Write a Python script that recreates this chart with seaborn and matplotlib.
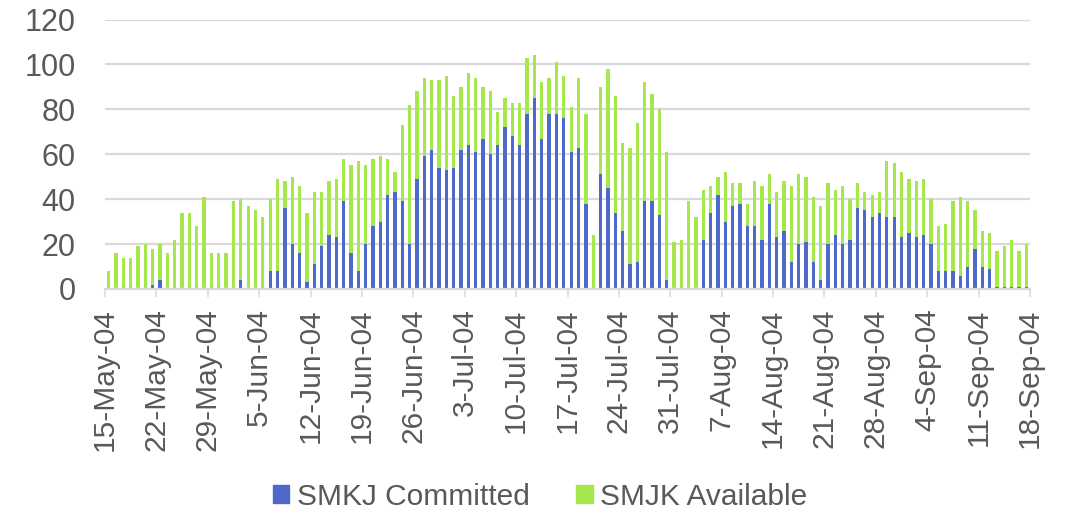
import numpy as np
import pandas as pd
import seaborn as sns
import matplotlib.pyplot as plt
from matplotlib.patches import Patch

### Daily values, 15-May-04 .. 17-Sep-04 (one bar per day)
total = [8, 16, 14, 14, 19, 20, 18, 20, 16, 22, 34, 34, 28, 41, 16, 16, 16, 39, 40, 37,
         35, 32, 40, 49, 48, 50, 46, 34, 43, 43, 48, 49, 58, 55, 57, 55, 58, 59, 58, 52,
         73, 82, 88, 94, 93, 93, 95, 86, 90, 96, 94, 90, 88, 79, 85, 83, 83, 103, 104, 92,
         94, 101, 95, 81, 94, 78, 24, 90, 98, 86, 65, 63, 74, 92, 87, 80, 61, 21, 22, 39,
         32, 44, 46, 50, 52, 47, 47, 38, 48, 46, 51, 43, 48, 46, 51, 50, 41, 37, 47, 44,
         46, 40, 47, 43, 42, 43, 57, 56, 52, 49, 48, 49, 40, 28, 29, 39, 41, 39, 35, 26,
         25, 17, 19, 22, 17, 20]
committed = [0, 0, 0, 0, 0, 0, 2, 4, 0, 0, 0, 0, 0, 0, 0, 0, 0, 0, 4, 0,
             0, 0, 8, 8, 36, 20, 16, 3, 11, 19, 24, 23, 39, 16, 8, 20, 28, 30, 42, 43,
             39, 20, 49, 59, 62, 54, 53, 54, 62, 64, 61, 67, 60, 64, 72, 68, 64, 78, 85, 67,
             78, 78, 76, 61, 63, 38, 0, 51, 45, 34, 26, 11, 12, 39, 39, 33, 4, 0, 0, 0,
             0, 22, 34, 42, 30, 37, 38, 28, 28, 22, 38, 23, 26, 12, 20, 21, 12, 4, 20, 24,
             20, 22, 36, 35, 32, 34, 32, 32, 23, 25, 23, 24, 20, 8, 8, 8, 6, 10, 18, 10,
             9, 1, 1, 1, 1, 1]
available = [t - c for t, c in zip(total, committed)]

tick_labels = ["15-May-04", "22-May-04", "29-May-04", "5-Jun-04", "12-Jun-04", "19-Jun-04",
               "26-Jun-04", "3-Jul-04", "10-Jul-04", "17-Jul-04", "24-Jul-04", "31-Jul-04",
               "7-Aug-04", "14-Aug-04", "21-Aug-04", "28-Aug-04", "4-Sep-04", "11-Sep-04",
               "18-Sep-04"]

days = pd.date_range("2004-05-15", periods=len(total)).strftime("%d-%b-%y")
data = pd.DataFrame({"day": days, "committed": committed, "available": available})
data["total"] = data["committed"] + data["available"]

BLUE = "#4F68C9"
GREEN = "#A6E84C"
GREY = "#595959"
GRID = "#D9D9D9"

sns.set_theme(style="white")
plt.rcParams["font.family"] = ["Liberation Sans", "DejaVu Sans"]

fig, ax = plt.subplots(figsize=(10.76, 5.16), dpi=100)
fig.subplots_adjust(left=105 / 1076, right=1030 / 1076, top=1 - 19.5 / 516, bottom=1 - 289 / 516)

# stacked: total (green) drawn first, committed (blue) on top of it
sns.barplot(data=data, x="day", y="total", color=GREEN, saturation=1, width=0.45,
            linewidth=0, ax=ax)
sns.barplot(data=data, x="day", y="committed", color=BLUE, saturation=1, width=0.45,
            linewidth=0, ax=ax)

ax.set_xlim(-0.5, len(total) - 0.5)
ax.set_ylim(0, 120)
ax.set_yticks(range(0, 121, 20))
ax.yaxis.grid(True, color=GRID, linewidth=1.6)
ax.set_axisbelow(True)
ax.set_xticks(np.arange(-0.5, len(total), 7))
ax.set_xticklabels(tick_labels, rotation=90)
ax.set_xlabel("")
ax.set_ylabel("")

for s in ["top", "right", "left"]:
    ax.spines[s].set_visible(False)
ax.spines["bottom"].set_color(GRID)
ax.spines["bottom"].set_linewidth(1.6)

ax.tick_params(axis="x", length=6, width=1.2, color=GRID, direction="out",
               labelsize=21.5, labelcolor=GREY, pad=8, bottom=True)
ax.tick_params(axis="y", length=0, labelsize=22, labelcolor=GREY, pad=21)

handles = [Patch(color=BLUE, label="SMKJ Committed"), Patch(color=GREEN, label="SMJK Available")]
fig.legend(handles=handles, loc="center", bbox_to_anchor=(0.502, 1 - 497 / 516), ncol=2,
           frameon=False, fontsize=21.5, labelcolor=GREY, handlelength=0.55,
           handleheight=0.55, handletextpad=0.25, columnspacing=1.55)

fig.savefig("out.png", dpi=100)
